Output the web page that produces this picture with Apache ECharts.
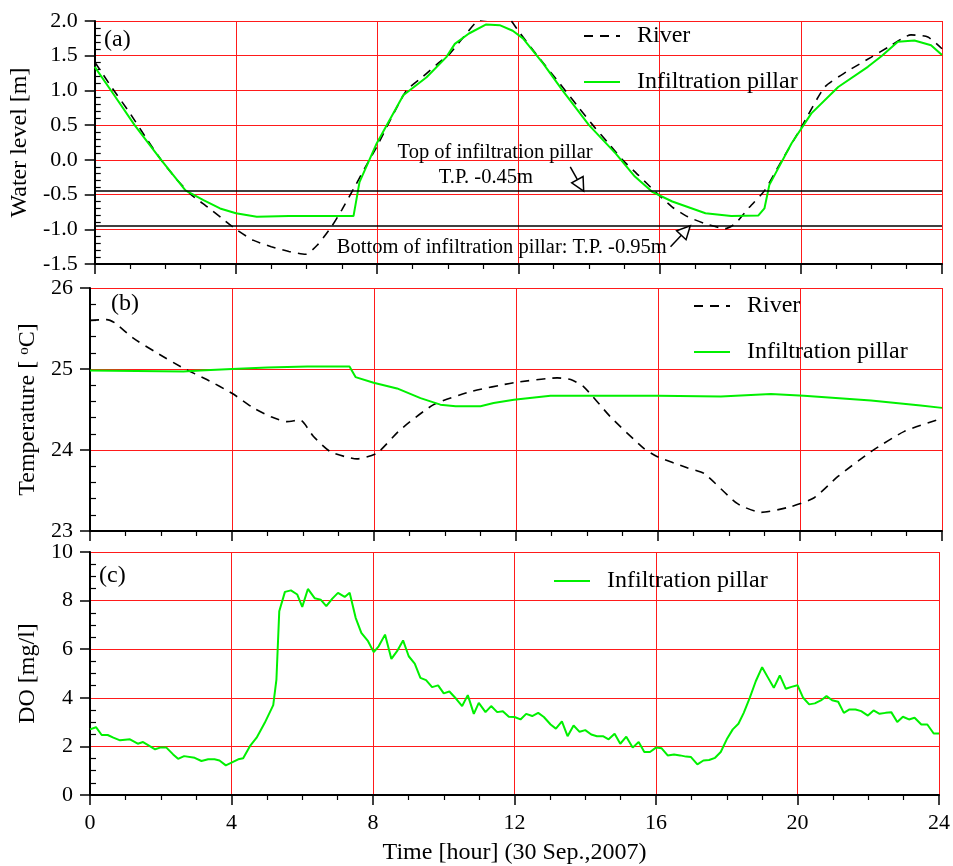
<!DOCTYPE html>
<html>
<head>
<meta charset="utf-8">
<script src="https://cdn.jsdelivr.net/npm/echarts@6/dist/echarts.min.js"></script>
<style>
html, body { margin: 0; padding: 0; background: #fff; }
#chart { width: 953px; height: 866px; }
</style>
</head>
<body>
<div id="chart"></div>
<script>
const FONT = '"Liberation Serif", "Times New Roman", serif';

// (a) Water level [m]
const riverLevelHours = [0, 0.5, 1.0, 1.5, 1.88, 2.3, 2.73, 3.2, 3.6, 4.0, 4.5, 5.0, 5.5, 5.97, 6.3, 6.71, 7.0, 7.33, 7.65, 7.99, 8.4, 8.83, 9.3, 9.7, 10.06, 10.45, 10.85, 11.3, 11.75, 11.98, 12.6, 13.25, 13.7, 14.15, 14.55, 14.95, 15.4, 15.84, 16.36, 16.8, 17.3, 17.86, 18.14, 18.55, 18.98, 19.36, 20.02, 20.68, 21.3, 22.0, 22.5, 23.12, 23.6, 24.0];
const riverLevel = [1.41, 1.03, 0.67, 0.28, 0.0, -0.27, -0.5, -0.68, -0.84, -1.0, -1.16, -1.25, -1.32, -1.36, -1.23, -0.96, -0.72, -0.42, -0.12, 0.19, 0.6, 1.0, 1.2, 1.38, 1.53, 1.77, 2.0, 2.03, 2.02, 1.87, 1.46, 1.05, 0.76, 0.475, 0.24, 0.0, -0.22, -0.44, -0.68, -0.82, -0.92, -0.99, -0.92, -0.68, -0.44, -0.1, 0.475, 1.05, 1.27, 1.48, 1.63, 1.8, 1.77, 1.6];
const pillarLevelHours = [0, 0.5, 1.13, 1.88, 2.57, 3.08, 3.55, 4.0, 4.59, 5.5, 6.5, 7.33, 7.5, 7.99, 8.74, 9.4, 9.96, 10.2, 10.6, 11.09, 11.47, 11.84, 12.13, 12.7, 13.25, 14.0, 14.76, 15.3, 15.79, 16.36, 17.3, 18.03, 18.8, 18.97, 19.11, 19.74, 20.3, 21.06, 21.9, 22.3, 22.75, 23.22, 23.69, 24.0];
const pillarLevel = [1.34, 0.97, 0.5, 0.0, -0.44, -0.58, -0.7, -0.77, -0.82, -0.81, -0.81, -0.81, -0.32, 0.24, 0.93, 1.19, 1.48, 1.67, 1.82, 1.95, 1.94, 1.86, 1.75, 1.39, 1.0, 0.5, 0.09, -0.24, -0.46, -0.6, -0.77, -0.81, -0.8, -0.7, -0.36, 0.24, 0.67, 1.05, 1.34, 1.5, 1.7, 1.72, 1.65, 1.51];
const pillarTop = -0.45;
const pillarBottom = -0.95;

// Labels and arrows pointing at the pillar top / bottom lines
const noteText = [
  'Top of infiltration pillar',
  'T.P. ' + pillarTop.toFixed(2) + 'm',
  'Bottom of infiltration pillar: T.P. ' + pillarBottom.toFixed(2) + 'm'
];
const noteAt = [[11.34, 0.11], [11.08, -0.26], [11.53, -1.26]];
const arrowFrom = [[13.47, -0.10], [16.31, -1.25]];
const arrowTo = [[13.85, pillarTop], [16.87, pillarBottom]];

// (b) Temperature [°C]
const riverTempHours = [0, 0.47, 0.7, 1.22, 1.88, 2.63, 3.29, 4.0, 4.6, 5.1, 5.54, 5.92, 6.29, 6.77, 7.52, 8.08, 8.74, 9.68, 10.72, 11.94, 13.16, 13.54, 13.91, 14.66, 15.6, 15.97, 16.82, 17.3, 18.23, 18.9, 19.74, 20.4, 21.06, 22.0, 22.94, 24.0];
const riverTemp = [25.60, 25.61, 25.57, 25.38, 25.20, 25.01, 24.87, 24.70, 24.52, 24.41, 24.35, 24.37, 24.17, 23.98, 23.89, 23.96, 24.25, 24.56, 24.72, 24.83, 24.89, 24.87, 24.78, 24.41, 24.02, 23.92, 23.78, 23.71, 23.34, 23.23, 23.30, 23.41, 23.67, 23.98, 24.23, 24.39];
const pillarTempHours = [0, 2.63, 3.1, 4.0, 5.0, 6.12, 7.31, 7.48, 7.99, 8.65, 9.31, 9.87, 10.3, 11.0, 11.37, 11.94, 12.97, 16.0, 17.77, 19.18, 20.11, 22.0, 23.4, 24.0];
const pillarTemp = [24.98, 24.97, 24.98, 25.00, 25.02, 25.03, 25.03, 24.90, 24.83, 24.76, 24.64, 24.56, 24.54, 24.54, 24.58, 24.62, 24.67, 24.67, 24.66, 24.69, 24.67, 24.61, 24.55, 24.52];

// (c) Dissolved oxygen [mg/l]
const doHours = [0, 0.17, 0.33, 0.5, 0.66, 0.85, 1.13, 1.35, 1.5, 1.69, 1.84, 1.98, 2.16, 2.35, 2.49, 2.66, 2.96, 3.15, 3.34, 3.52, 3.66, 3.84, 4.0, 4.19, 4.33, 4.52, 4.71, 4.94, 5.18, 5.27, 5.35, 5.51, 5.68, 5.86, 6.0, 6.16, 6.35, 6.52, 6.68, 6.85, 7.01, 7.2, 7.34, 7.51, 7.67, 7.86, 8.02, 8.16, 8.34, 8.52, 8.68, 8.85, 9.01, 9.18, 9.34, 9.5, 9.67, 9.84, 10.0, 10.16, 10.35, 10.52, 10.68, 10.85, 10.99, 11.18, 11.34, 11.51, 11.67, 11.84, 12.0, 12.17, 12.33, 12.5, 12.67, 12.83, 13.02, 13.17, 13.34, 13.5, 13.67, 13.84, 14.0, 14.17, 14.33, 14.5, 14.66, 14.83, 14.99, 15.16, 15.34, 15.51, 15.67, 15.83, 16.0, 16.16, 16.33, 16.51, 16.68, 16.85, 16.99, 17.17, 17.34, 17.5, 17.67, 17.83, 18.0, 18.17, 18.33, 18.48, 18.65, 18.82, 19.0, 19.17, 19.33, 19.5, 19.67, 19.83, 20.0, 20.16, 20.33, 20.49, 20.66, 20.82, 20.98, 21.15, 21.31, 21.47, 21.64, 21.8, 21.99, 22.15, 22.32, 22.49, 22.65, 22.82, 22.98, 23.15, 23.31, 23.5, 23.67, 23.85, 24.0];
const doValues = [2.70, 2.79, 2.47, 2.47, 2.36, 2.25, 2.29, 2.11, 2.18, 2.01, 1.88, 1.95, 1.95, 1.67, 1.49, 1.60, 1.53, 1.40, 1.47, 1.47, 1.42, 1.22, 1.33, 1.47, 1.51, 2.01, 2.36, 2.97, 3.70, 4.75, 7.56, 8.36, 8.42, 8.25, 7.74, 8.48, 8.10, 8.04, 7.77, 8.08, 8.32, 8.15, 8.32, 7.29, 6.67, 6.33, 5.88, 6.12, 6.60, 5.60, 5.92, 6.36, 5.71, 5.41, 4.82, 4.73, 4.44, 4.51, 4.18, 4.26, 3.96, 3.66, 4.11, 3.34, 3.79, 3.41, 3.66, 3.41, 3.45, 3.22, 3.21, 3.11, 3.34, 3.25, 3.38, 3.21, 2.90, 2.73, 3.03, 2.42, 2.86, 2.60, 2.67, 2.49, 2.42, 2.42, 2.29, 2.52, 2.11, 2.40, 1.95, 2.18, 1.77, 1.77, 1.95, 1.92, 1.63, 1.67, 1.63, 1.58, 1.56, 1.26, 1.42, 1.44, 1.53, 1.77, 2.29, 2.70, 2.93, 3.38, 4.0, 4.68, 5.26, 4.82, 4.41, 4.92, 4.37, 4.45, 4.52, 4.0, 3.73, 3.77, 3.89, 4.07, 3.90, 3.84, 3.38, 3.52, 3.52, 3.45, 3.27, 3.48, 3.34, 3.38, 3.41, 3.0, 3.22, 3.11, 3.18, 2.90, 2.90, 2.53, 2.53];

const panelLetters = ['(a)', '(b)', '(c)'];
const seriesNames = ['River', 'Infiltration pillar'];
const xTitle = 'Time [hour] (30 Sep.,2007)';

const RED = '#ff1a1a';
const GREEN = '#00f000';
const pairs = (xs, ys) => xs.map((x, i) => [x, ys[i]]);

const grids = [
  { left: 90, right: 11, top: 21, height: 243 },
  { left: 90, right: 11, top: 288, height: 243 },
  { left: 90, right: 11, top: 552, height: 244 }
];

function xAxisFor(i) {
  return {
    type: 'value', gridIndex: i, min: 0, max: 24, interval: 4,
    axisLine: { show: true, onZero: false, lineStyle: { color: '#000', width: 2 } },
    axisTick: { show: true, length: 10, lineStyle: { color: '#000', width: 1.5 } },
    minorTick: { show: true, splitNumber: 4, length: 5, lineStyle: { color: '#000', width: 1.2 } },
    splitLine: { show: true, lineStyle: { color: RED, width: 1 } },
    axisLabel: { show: i === 2, fontFamily: FONT, fontSize: 22, color: '#000', margin: 17 },
    name: i === 2 ? xTitle : '',
    nameLocation: 'middle', nameGap: 46,
    nameTextStyle: { fontFamily: FONT, fontSize: 24, color: '#000' }
  };
}

function yAxisMain(i, min, max, interval, name, nameGap, fmt, rich) {
  return {
    type: 'value', gridIndex: i, min: min, max: max, interval: interval,
    position: 'left',
    axisLine: { show: true, onZero: false, lineStyle: { color: '#000', width: 2 } },
    axisTick: { show: true, length: 10, lineStyle: { color: '#000', width: 1.5 } },
    splitLine: { show: true, lineStyle: { color: RED, width: 1 } },
    axisLabel: { fontFamily: FONT, fontSize: 22, color: '#000', margin: 17, formatter: fmt },
    name: name, nameLocation: 'middle', nameGap: nameGap,
    nameTextStyle: { fontFamily: FONT, fontSize: 24, color: '#000', rich: rich }
  };
}

// Inner minor ticks live on an overlay axis so they can point inward
function yAxisMinor(i, min, max, interval, split) {
  return {
    type: 'value', gridIndex: i, min: min, max: max, interval: interval,
    position: 'left', offset: 0,
    axisLine: { show: false },
    axisTick: { show: false, inside: true },
    minorTick: { show: true, splitNumber: split, length: 6, lineStyle: { color: '#000', width: 1.2 } },
    splitLine: { show: false },
    axisLabel: { show: false }
  };
}

const supRich = {
  sup: { fontFamily: FONT, fontSize: 15, color: '#000', verticalAlign: 'top', padding: [0, 0, 9, 0] }
};

const lineSeries = (name, data, xi, yi, dashed) => ({
  name: name, type: 'line', xAxisIndex: xi, yAxisIndex: yi,
  data: data, showSymbol: false, symbol: 'none', smooth: dashed ? 0.2 : false,
  lineStyle: dashed ? { color: '#000', width: 1.6, type: [9, 7] } : { color: GREEN, width: 2 },
  itemStyle: { color: dashed ? '#000' : GREEN },
  z: dashed ? 3 : 4
});

const pillarLevelSeries = lineSeries(seriesNames[1], pairs(pillarLevelHours, pillarLevel), 0, 0, false);
pillarLevelSeries.markLine = {
  silent: true, symbol: 'none', label: { show: false },
  lineStyle: { color: '#000', width: 1.6, type: 'solid' },
  data: [{ yAxis: pillarTop }, { yAxis: pillarBottom }]
};

const arrowSeries = {
  type: 'custom', xAxisIndex: 0, yAxisIndex: 0, clip: false, silent: true, z: 6,
  data: arrowFrom.map((p, i) => [p[0], p[1], arrowTo[i][0], arrowTo[i][1]]),
  encode: { x: [0, 2], y: [1, 3] },
  renderItem: function (params, api) {
    const a = api.coord([api.value(0), api.value(1)]);
    const b = api.coord([api.value(2), api.value(3)]);
    const dx = b[0] - a[0], dy = b[1] - a[1];
    const len = Math.hypot(dx, dy);
    const ux = dx / len, uy = dy / len;
    const hl = 13, hw = 6.5;
    const bx = b[0] - ux * hl, by = b[1] - uy * hl;
    const nx = -uy, ny = ux;
    return {
      type: 'group',
      children: [
        { type: 'line', shape: { x1: a[0], y1: a[1], x2: bx, y2: by }, style: { stroke: '#000', lineWidth: 1.5 } },
        { type: 'polygon', shape: { points: [[b[0], b[1]], [bx + nx * hw, by + ny * hw], [bx - nx * hw, by - ny * hw]] },
          style: { fill: '#fff', stroke: '#000', lineWidth: 1.5 } }
      ]
    };
  }
};

const noteSeries = {
  type: 'custom', xAxisIndex: 0, yAxisIndex: 0, clip: false, silent: true, z: 6,
  data: noteAt.map((p, i) => [p[0], p[1], i]),
  encode: { x: 0, y: 1 },
  renderItem: function (params, api) {
    const p = api.coord([api.value(0), api.value(1)]);
    return {
      type: 'text', x: p[0], y: p[1],
      style: { text: noteText[api.value(2)], fontFamily: FONT, fontSize: 20.5, fill: '#000', align: 'center', verticalAlign: 'middle' }
    };
  }
};

const legendBase = {
  orient: 'vertical', itemWidth: 36, itemHeight: 14, itemGap: 22, padding: 0, selectedMode: false,
  itemStyle: { opacity: 0 },
  textStyle: { fontFamily: FONT, fontSize: 24, color: '#000', padding: [0, 0, 0, 12] }
};

const letterPos = [[104, 28], [111, 292], [99, 564]];

const option = {
  animation: false,
  backgroundColor: '#fff',
  grid: grids,
  xAxis: [xAxisFor(0), xAxisFor(1), xAxisFor(2)],
  yAxis: [
    yAxisMain(0, -1.5, 2.0, 0.5, 'Water level [m]', 57, v => v.toFixed(1)),
    yAxisMain(1, 23, 26, 1, 'Temperature [ {sup|o}C]', 42, v => String(v), supRich),
    yAxisMain(2, 0, 10, 2, 'DO [mg/l]', 43, v => String(v)),
    yAxisMinor(0, -1.5, 2.0, 0.5, 5),
    yAxisMinor(1, 23, 26, 1, 5),
    yAxisMinor(2, 0, 10, 2, 4)
  ],
  legend: [
    Object.assign({}, legendBase, { data: seriesNames, left: 583, top: 24 }),
    Object.assign({}, legendBase, { data: seriesNames, left: 693, top: 294 }),
    Object.assign({}, legendBase, { data: [seriesNames[1]], left: 553, top: 569 })
  ],
  graphic: panelLetters.map((t, i) => ({
    type: 'text', left: letterPos[i][0], top: letterPos[i][1], z: 10,
    style: { text: t, fontFamily: FONT, fontSize: 24, fill: '#000' }
  })),
  series: [
    lineSeries(seriesNames[0], pairs(riverLevelHours, riverLevel), 0, 0, true),
    pillarLevelSeries,
    arrowSeries,
    noteSeries,
    lineSeries(seriesNames[0], pairs(riverTempHours, riverTemp), 1, 1, true),
    lineSeries(seriesNames[1], pairs(pillarTempHours, pillarTemp), 1, 1, false),
    lineSeries(seriesNames[1], pairs(doHours, doValues), 2, 2, false)
  ]
};

const chart = echarts.init(document.getElementById('chart'), null, { renderer: 'canvas' });
chart.setOption(option);
</script>
</body>
</html>
